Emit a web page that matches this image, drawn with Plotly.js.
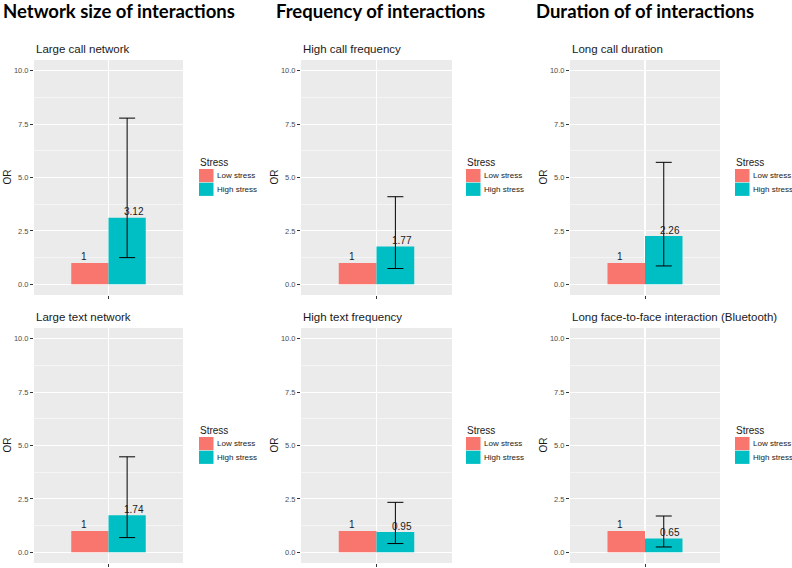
<!DOCTYPE html>
<html>
<head>
<meta charset="utf-8">
<script src="https://cdn.plot.ly/plotly-3.0.1.min.js"></script>
<style>html,body{margin:0;padding:0;background:#fff;}#chart{width:792px;height:568px;}</style>
</head>
<body>
<div id="chart"></div>
<script>
const columnHeadings = ["Network size of interactions", "Frequency of interactions", "Duration of of interactions"];
const panelTitles = ["Large call network", "High call frequency", "Long call duration",
                     "Large text network", "High text frequency", "Long face-to-face interaction (Bluetooth)"];
const legendTitle = "Stress";
const groups = ["Low stress", "High stress"];
const lowOR = [1, 1, 1, 1, 1, 1];
const highOR = [3.12, 1.77, 2.26, 1.74, 0.95, 0.65];
const ciLower = [1.25, 0.74, 0.86, 0.69, 0.41, 0.25];
const ciUpper = [7.78, 4.10, 5.71, 4.47, 2.34, 1.70];
const yTicks = [0, 2.5, 5, 7.5, 10];
const yMinorTicks = [1.25, 3.75, 6.25, 8.75];

const W = 792, H = 568;
const colPx = [[34, 183], [301, 452], [570, 720]];
const rowPx = [[60, 295], [328, 563]];
const legendX = [199, 466, 735];
const legendTitleY = [162.5, 430.5];
const titleY = [49, 317];
const headX = [118.5, 380, 644.5];
const COLORS = ["#F8766D", "#00BFC4"];
const TXT = "#1a1a1a";
const FONT = "Liberation Sans";

const px = v => v / W, py = v => 1 - v / H;

const data = [];
const layout = {
  width: W, height: H,
  margin: {l: 0, r: 0, t: 0, b: 0},
  paper_bgcolor: "#ffffff",
  plot_bgcolor: "#EBEBEB",
  barmode: "group", bargap: 0.4, bargroupgap: 0,
  font: {family: FONT, color: TXT},
  showlegend: false,
  annotations: [], shapes: []
};

columnHeadings.forEach((h, c) => {
  layout.annotations.push({text: "<b>" + h + "</b>", xref: "paper", yref: "paper",
    x: px(headX[c]), y: py(11), xanchor: "center", yanchor: "middle", showarrow: false,
    font: {family: "Lato", size: 18.5, color: "#000"}});
});

panelTitles.forEach((t, i) => {
  const r = Math.floor(i / 3), c = i % 3, n = i + 1;
  const sfx = n === 1 ? "" : String(n);
  const xa = "x" + sfx, ya = "y" + sfx;
  const cat = ["OR"];
  data.push({type: "bar", x: cat, y: [lowOR[i]], name: groups[0], xaxis: xa, yaxis: ya,
    marker: {color: COLORS[0], line: {width: 0}}, hoverinfo: "y"});
  data.push({type: "bar", x: cat, y: [highOR[i]], name: groups[1], xaxis: xa, yaxis: ya,
    marker: {color: COLORS[1], line: {width: 0}}, hoverinfo: "y",
    error_y: {type: "data", symmetric: false, array: [ciUpper[i] - highOR[i]], arrayminus: [highOR[i] - ciLower[i]],
      color: "#000", thickness: 1, width: 8}});
  layout["xaxis" + sfx] = {domain: [px(colPx[c][0]), px(colPx[c][1])], anchor: ya, range: [-0.6, 0.6],
    showticklabels: false, ticks: "outside", ticklen: 3, tickcolor: "#333", tickwidth: 1,
    showgrid: true, gridcolor: "#ffffff", gridwidth: 1.1, zeroline: false, showline: false, fixedrange: true};
  layout["yaxis" + sfx] = {domain: [py(rowPx[r][1]), py(rowPx[r][0])], anchor: xa, range: [-0.5, 10.5],
    tickvals: yTicks, tickformat: ".1f", ticks: "outside", ticklen: 3, tickcolor: "#333", tickwidth: 1,
    tickfont: {size: 7.5, color: "#4d4d4d"},
    showgrid: true, gridcolor: "#ffffff", gridwidth: 1.1, zeroline: false, showline: false,
    minor: {tickvals: yMinorTicks, showgrid: true, gridcolor: "#ffffff", gridwidth: 0.5, ticks: ""},
    fixedrange: true};
  // y-axis title
  layout.annotations.push({text: "OR", textangle: -90, xref: "paper", yref: "paper",
    x: px(colPx[c][0] - 27), y: py((rowPx[r][0] + rowPx[r][1]) / 2), xanchor: "center", yanchor: "middle",
    showarrow: false, font: {size: 10, color: TXT}});
  // panel title
  layout.annotations.push({text: t, xref: "paper", yref: "paper", x: px(colPx[c][0]), y: py(titleY[r]),
    xanchor: "left", yanchor: "middle", showarrow: false, font: {size: 11.5, color: TXT}});
  // value labels
  [lowOR[i], highOR[i]].forEach((v, k) => {
    layout.annotations.push({text: String(v), xref: xa, yref: ya, x: cat[0], y: v,
      xshift: k === 0 ? -25 : 25, yshift: 6, xanchor: "center", yanchor: "middle", showarrow: false,
      font: {size: 10, color: TXT}});
  });
  // legend
  const lx = legendX[c], ly = legendTitleY[r];
  layout.annotations.push({text: legendTitle, xref: "paper", yref: "paper", x: px(lx - 1), y: py(ly),
    xanchor: "left", yanchor: "middle", showarrow: false, font: {size: 10, color: TXT}});
  groups.forEach((g, k) => {
    const top = ly + 6.5 + k * 13.7;
    layout.shapes.push({type: "rect", xref: "paper", yref: "paper", x0: px(lx), x1: px(lx + 14.5),
      y0: py(top), y1: py(top + 13.2), fillcolor: COLORS[k], line: {width: 0}});
    layout.annotations.push({text: g, xref: "paper", yref: "paper", x: px(lx + 16), y: py(top + 6.6),
      xanchor: "left", yanchor: "middle", showarrow: false, font: {size: 8, color: TXT}});
  });
});

Plotly.newPlot("chart", data, layout, {displayModeBar: false, staticPlot: true});
</script>
</body>
</html>
